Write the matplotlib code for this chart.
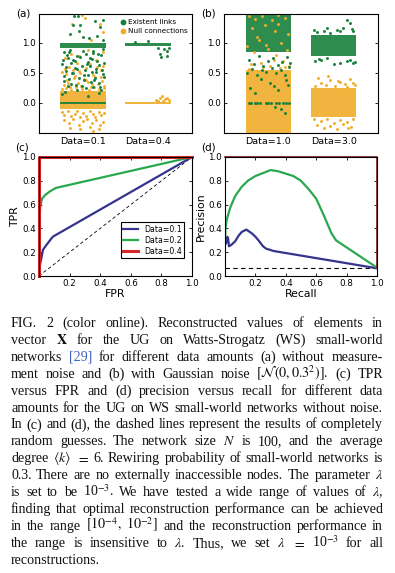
import numpy as np
import matplotlib.pyplot as plt

plt.rcParams['font.family'] = ['DejaVu Sans']
plt.rcParams['mathtext.fontset'] = 'stix'

W, H = 395, 573
fig = plt.figure(figsize=(W / 100, H / 100), dpi=100)


def box(l, t, r, b):
    return [l / W, 1 - b / H, (r - l) / W, (b - t) / H]


GREEN = '#17803c'
ORANGE = '#f0ad2a'
BLUE = '#34348f'
LGREEN = '#2aa84e'
RED = '#d8262a'

# ---- data: panels (a) and (b) ----
cats_a = ['Data=0.1', 'Data=0.4']
cats_b = ['Data=1.0', 'Data=3.0']

# dense bands (category, low, high)
a_orange_bands = [(0, -0.10, 0.20), (1, -0.015, 0.015)]
a_green_bands = [(0, 0.91, 0.99), (0, -0.015, 0.015), (1, 0.945, 0.995)]
b_orange_bands = [(0, -0.50, 0.55), (1, -0.24, 0.25)]
b_green_bands = [(0, 0.84, 1.48), (1, 0.78, 1.13)]

# sparse points
a_green_x = [-0.14, -0.08, -0.05, -0.15, 0.18, 0.26, 0.31, 0.0, -0.3, -0.25,
             -0.2, -0.1, 0.05, 0.1, 0.15, 0.22, 0.28, -0.32, -0.27, -0.18,
             -0.12, -0.02, 0.03, 0.08, 0.13, 0.2, 0.25, 0.3, -0.29, -0.22,
             -0.16, -0.06, 0.01, 0.07, 0.12, 0.19, 0.24, 0.32, -0.24, -0.11,
             0.04, 0.16, 0.27, -0.33, -0.2, -0.07, 0.09, 0.21, 0.3, -0.15,
             -0.31, -0.23, -0.13, -0.04, 0.06, 0.14, 0.23, 0.33, -0.26, -0.17,
             -0.09, 0.02, 0.11, 0.2, 0.29, -0.3, -0.19, -0.01, 0.17, 0.26,
             -0.28, -0.1, 0.08, 0.24, -0.21, 0.0, 0.15, 0.31,
             1.18, 1.20, 1.29, 1.30, 1.25, 1.15, 1.32, 1.0, 0.8]
a_green_y = [1.44, 1.45, 1.30, 1.29, 1.36, 1.27, 1.38, 1.10, 0.85, 0.80,
             0.88, 0.78, 0.82, 0.75, 0.86, 0.70, 0.79, 0.65, 0.60, 0.66,
             0.58, 0.62, 0.55, 0.68, 0.52, 0.57, 0.63, 0.48, 0.45, 0.40,
             0.50, 0.42, 0.38, 0.46, 0.35, 0.41, 0.33, 0.44, 0.28, 0.30,
             0.25, 0.27, 0.22, 0.15, 1.15, 1.2, 1.08, 1.12, 1.05, 0.72,
             0.71, 0.74, 0.69, 0.77, 0.64, 0.73, 0.81, 0.67, 0.53, 0.49,
             0.56, 0.47, 0.61, 0.51, 0.55, 0.36, 0.32, 0.29, 0.39, 0.26,
             0.18, 0.21, 0.12, 0.16, 0.84, 0.87, 0.83, 0.89,
             0.82, 0.76, 0.86, 0.78, 0.90, 0.91, 0.92, 1.03, 1.02]
a_orange_x = [-0.02, 0.03, 0.26, -0.17, 0.3, 0.12,
              -0.3, -0.25, -0.2, -0.14, -0.08, -0.03, 0.02, 0.07, 0.12, 0.18, 0.23, 0.29, 0.33,
              -0.32, -0.27, -0.21, -0.16, -0.1, -0.04, 0.04, 0.1, 0.16, 0.21, 0.27, 0.31,
              -0.28, -0.18, -0.06, 0.08, 0.2, 0.3,
              -0.33, -0.29, -0.24, -0.19, -0.13, -0.09, -0.05, 0.0, 0.05, 0.1, 0.15, 0.19, 0.24, 0.28, 0.33,
              -0.3, -0.22, -0.15, -0.07, 0.0, 0.06, 0.13, 0.2, 0.26, 0.31,
              -0.2, -0.05, 0.1, 0.25, 0.15,
              -0.33, -0.26, -0.18, -0.11, -0.01, 0.09, 0.17, 0.25, 0.32,
              -0.24, -0.12, 0.05, 0.14, 0.28, -0.28, -0.07, 0.11, 0.22,
              1.12, 1.18, 1.22, 1.26, 1.3, 1.24, 1.15, 1.33]
a_orange_y = [1.46, 1.42, 1.31, 1.31, 1.18, 1.05,
              0.30, 0.38, 0.27, 0.42, 0.33, 0.29, 0.40, 0.35, 0.26, 0.44, 0.31, 0.37, 0.28,
              0.52, 0.48, 0.60, 0.55, 0.66, 0.50, 0.58, 0.63, 0.47, 0.69, 0.54, 0.61,
              0.74, 0.82, 0.78, 0.88, 0.72, 0.85,
              -0.15, -0.20, -0.13, -0.22, -0.18, -0.14, -0.24, -0.16, -0.21, -0.13, -0.19, -0.23, -0.15, -0.2, -0.17,
              -0.28, -0.33, -0.26, -0.36, -0.3, -0.27, -0.34, -0.29, -0.37, -0.31,
              -0.41, -0.44, -0.4, -0.43, -0.47,
              0.23, 0.25, 0.22, 0.26, 0.24, 0.22, 0.27, 0.23, 0.25,
              0.34, 0.45, 0.39, 0.32, 0.43, 0.57, 0.53, 0.65, 0.59,
              0.05, 0.08, 0.12, 0.06, 0.09, 0.04, 0.03, 0.05]

b_green_x = [-0.3, -0.22, -0.15, -0.08, 0.0, 0.07, 0.14, 0.21, 0.28, 0.33,
             -0.32, -0.25, -0.18, -0.1, -0.03, 0.05, 0.12, 0.19, 0.26, 0.31,
             -0.28, -0.12, 0.02, 0.15, 0.27, -0.2, 0.08, 0.3,
             -0.3, -0.26, -0.21, -0.17, -0.13, -0.04, 0.0, 0.04, 0.11, 0.16, 0.22, 0.27, 0.31,
             0.2, 0.25, 0.1,
             1.2, 1.25, 0.9, 1.05, 1.3, 0.75, 0.7, 1.15, 0.85, 0.95, 1.1, 1.28, 0.72, 1.32,
             0.8, 1.0, 1.2, 0.9, 1.1, 0.78, 1.25, 1.3]
b_green_y = [0.72, 0.65, 0.78, 0.61, 0.7, 0.75, 0.63, 0.68, 0.77, 0.66,
             0.5, 0.57, 0.47, 0.55, 0.52, 0.58, 0.49, 0.54, 0.46, 0.59,
             0.25, 0.4, 0.33, 0.22, 0.38, 0.17, 0.28, 0.3,
             0, 0, 0, 0, 0, 0, 0, 0, 0, 0, 0, 0, 0,
             -0.1, -0.16, -0.07,
             1.38, 1.33, 1.25, 1.22, 1.2, 1.18, 1.21, 1.24, 1.19, 1.17, 1.2, 1.23, 0.7, 0.68,
             0.72, 0.65, 0.7, 0.74, 0.66, 0.73, 0.72, 0.67]
b_orange_x = [-0.3, -0.2, -0.1, 0.05, 0.15, 0.25, -0.25, -0.05, 0.1, 0.3,
              -0.15, 0.2, -0.32, 0.0, 0.28, -0.22, 0.12, -0.08, 0.32, 0.18,
              -0.27, -0.12, 0.02, 0.22, -0.3, 0.08, 0.26, -0.18, 0.14, -0.04,
              0.72, 0.8, 0.88, 0.95, 1.02, 1.1, 1.18, 1.25, 1.32, 0.76, 0.92, 1.06, 1.2, 1.3,
              0.7, 0.8, 0.9, 1.0, 1.1, 1.2, 1.3, 0.75, 0.95, 1.15, 1.27, 0.85, 1.05, 1.22]
b_orange_y = [1.45, 1.4, 1.44, 1.38, 1.46, 1.42, 1.25, 1.3, 1.2, 1.15,
              1.05, 1.0, 0.95, 0.9, 0.88, 0.85, 0.8, 0.6, 0.62, 0.58,
              0.64, 0.66, 0.61, 0.69, 0.57, 0.71, 0.6, 1.1, 1.32, 0.97,
              0.28, 0.33, 0.3, 0.38, 0.29, 0.35, 0.31, 0.4, 0.3, 0.42, 0.45, 0.36, 0.27, 0.34,
              -0.27, -0.3, -0.26, -0.33, -0.28, -0.31, -0.27, -0.36, -0.38, -0.35, -0.4, -0.42, -0.44, -0.41]

# ---- data: panel (c) ROC ----
fpr_01 = [0, 0.004, 0.013, 0.026, 0.048, 0.09, 1.0]
tpr_01 = [0, 0.08, 0.135, 0.22, 0.26, 0.33, 1.0]
fpr_02 = [0, 0.002, 0.008, 0.02, 0.04, 0.07, 0.11, 1.0]
tpr_02 = [0, 0.45, 0.58, 0.65, 0.68, 0.71, 0.74, 1.0]
fpr_04 = [0, 0, 1.0]
tpr_04 = [0, 1.0, 1.0]

# ---- data: panel (d) PR ----
recall_01 = [0.0, 0.008, 0.015, 0.02, 0.026, 0.04, 0.066, 0.09, 0.11, 0.14, 0.175,
             0.2, 0.22, 0.25, 0.27, 0.32, 1.0]
prec_01 = [0.26, 0.28, 0.33, 0.32, 0.25, 0.26, 0.29, 0.34, 0.37, 0.39, 0.36,
           0.33, 0.3, 0.25, 0.23, 0.21, 0.065]
recall_02 = [0.0, 0.003, 0.011, 0.033, 0.066, 0.11, 0.15, 0.2, 0.26, 0.3, 0.35,
             0.4, 0.45, 0.5, 0.55, 0.6, 0.65, 0.7, 0.73, 1.0]
prec_02 = [0.3, 0.4, 0.47, 0.57, 0.67, 0.75, 0.8, 0.84, 0.87, 0.89, 0.88,
           0.86, 0.84, 0.8, 0.73, 0.65, 0.51, 0.36, 0.3, 0.07]
recall_04 = [0, 1.0, 1.0]
prec_04 = [1.0, 1.0, 0.065]
random_prec = 0.065

TICK = 6.3


def style(ax):
    for s in ax.spines.values():
        s.set_linewidth(0.8)
    ax.tick_params(direction='in', length=2.5, width=0.6, labelsize=TICK,
                   right=True, top=True, pad=2)


def scatter_panel(ax, cats, ob, gb, ox, oy, gx, gy):
    for c, lo, hi in ob:
        ax.bar(c, hi - lo, bottom=lo, width=0.7, color=ORANGE, alpha=0.9, linewidth=0)
    for c, lo, hi in gb:
        ax.bar(c, hi - lo, bottom=lo, width=0.7, color=GREEN, alpha=0.9, linewidth=0)
    ax.scatter(ox, oy, s=4.5, color=ORANGE, linewidths=0)
    ax.scatter(gx, gy, s=4.5, color=GREEN, linewidths=0)
    ax.set_xlim(-0.68, 1.68)
    ax.set_ylim(-0.5, 1.48)
    ax.set_xticks([0, 1], cats)
    ax.set_yticks([0.0, 0.5, 1.0], ['0.0', '0.5', '1.0'])
    style(ax)
    ax.tick_params(axis='x', length=0, top=False, labelsize=6.8, pad=3)


ax_a = fig.add_axes(box(39, 14, 192, 133))
scatter_panel(ax_a, cats_a, a_orange_bands, a_green_bands,
              a_orange_x, a_orange_y, a_green_x, a_green_y)
hg = ax_a.scatter([], [], s=10, color=GREEN, label='Existent links')
ho = ax_a.scatter([], [], s=10, color=ORANGE, label='Null connections')
ax_a.legend(handles=[hg, ho], loc='upper left', bbox_to_anchor=(0.5, 0.98),
            frameon=False, fontsize=5.2, handletextpad=0.2, labelspacing=0.3,
            borderaxespad=0, handlelength=1.2)

ax_b = fig.add_axes(box(224, 14, 378, 133))
scatter_panel(ax_b, cats_b, b_orange_bands, b_green_bands,
              b_orange_x, b_orange_y, b_green_x, b_green_y)

# (c) ROC
ax_c = fig.add_axes(box(39, 157, 192, 276))
ax_c.plot([0, 1], [0, 1], '--', color='black', lw=0.6, dashes=(4, 3))
ax_c.plot(fpr_01, tpr_01, color=BLUE, lw=1.6, label='Data=0.1')
ax_c.plot(fpr_02, tpr_02, color=LGREEN, lw=1.6, label='Data=0.2')
ax_c.plot(fpr_04, tpr_04, color=RED, lw=2.2, label='Data=0.4', clip_on=False)
ax_c.set_xlim(0, 1)
ax_c.set_ylim(0, 1)
ax_c.set_xticks([0.2, 0.4, 0.6, 0.8, 1.0])
ax_c.set_yticks([0.0, 0.2, 0.4, 0.6, 0.8, 1.0])
style(ax_c)
ax_c.set_xlabel('FPR', fontsize=7.8, labelpad=1)
ax_c.set_ylabel('TPR', fontsize=7.8, labelpad=2)
leg = ax_c.legend(loc='lower right', bbox_to_anchor=((184 - 39) / 153, (276 - 258) / 119),
                  borderaxespad=0, fontsize=5.6, fancybox=False, framealpha=1,
                  edgecolor='black', handlelength=2.0, labelspacing=0.25,
                  borderpad=0.3, handletextpad=0.7)
leg.get_frame().set_linewidth(0.8)

# (d) PR
ax_d = fig.add_axes(box(225, 157, 377, 276))
ax_d.plot([0, 1], [random_prec, random_prec], '--', color='black', lw=0.8, dashes=(4, 3))
ax_d.plot(recall_01, prec_01, color=BLUE, lw=1.6)
ax_d.plot(recall_02, prec_02, color=LGREEN, lw=1.6)
ax_d.plot(recall_04, prec_04, color='#7a1a1a', lw=1.2, clip_on=False)
ax_d.set_xlim(0, 1)
ax_d.set_ylim(0, 1)
ax_d.set_xticks([0.2, 0.4, 0.6, 0.8, 1.0])
ax_d.set_yticks([0.0, 0.2, 0.4, 0.6, 0.8, 1.0])
style(ax_d)
ax_d.set_xlabel('Recall', fontsize=7.8, labelpad=1)
ax_d.set_ylabel('Precision', fontsize=7.8, labelpad=2)

for lab, x, y in [('(a)', 23, 13), ('(b)', 208, 13), ('(c)', 22, 147), ('(d)', 208, 147)]:
    fig.text(x / W, 1 - y / H, lab, fontsize=7.5, ha='center', va='center')

# ---- caption, justified word by word ----
caption_lines = [
    "FIG. 2 (color online).  Reconstructed values of elements in",
    r"vector $\mathbf{X}$ for the UG on Watts-Strogatz (WS) small-world",
    "networks [29] for different data amounts (a) without measure-",
    r"ment noise and (b) with Gaussian noise $[\mathcal{N}(0,0.3^2)]$. (c) TPR",
    "versus FPR and (d) precision versus recall for different data",
    "amounts for the UG on WS small-world networks without noise.",
    "In (c) and (d), the dashed lines represent the results of completely",
    r"random guesses. The network size $N$ is 100, and the average",
    r"degree $\langle{k}\rangle$ $=$ 6. Rewiring probability of small-world networks is",
    r"0.3. There are no externally inaccessible nodes. The parameter $\lambda$",
    r"is set to be 10$^{-3}$. We have tested a wide range of values of $\lambda$,",
    "finding that optimal reconstruction performance can be achieved",
    r"in the range $[10^{-4},$ $10^{-2}]$ and the reconstruction performance in",
    r"the range is insensitive to $\lambda$. Thus, we set $\lambda$ $=$ 10$^{-3}$ for all",
    "reconstructions.",
]

renderer = fig.canvas.get_renderer()
left, right = 11, 383
for i, line in enumerate(caption_lines):
    words = line.split()
    y = 1 - (327 + 16.9 * i) / H
    texts = [fig.text(0, y, w, fontsize=10.1, family='Liberation Serif',
                      color='#3d62c4' if w == '[29]' else '#111111', va='baseline')
             for w in words]
    widths = [t.get_window_extent(renderer).width for t in texts]
    if i == len(caption_lines) - 1 or len(words) == 1:
        gap = 3.5
    else:
        gap = (right - left - sum(widths)) / (len(words) - 1)
    x = left
    for t, w in zip(texts, widths):
        t.set_x(x / W)
        x += w + gap

fig.savefig('out.png', dpi=100)
